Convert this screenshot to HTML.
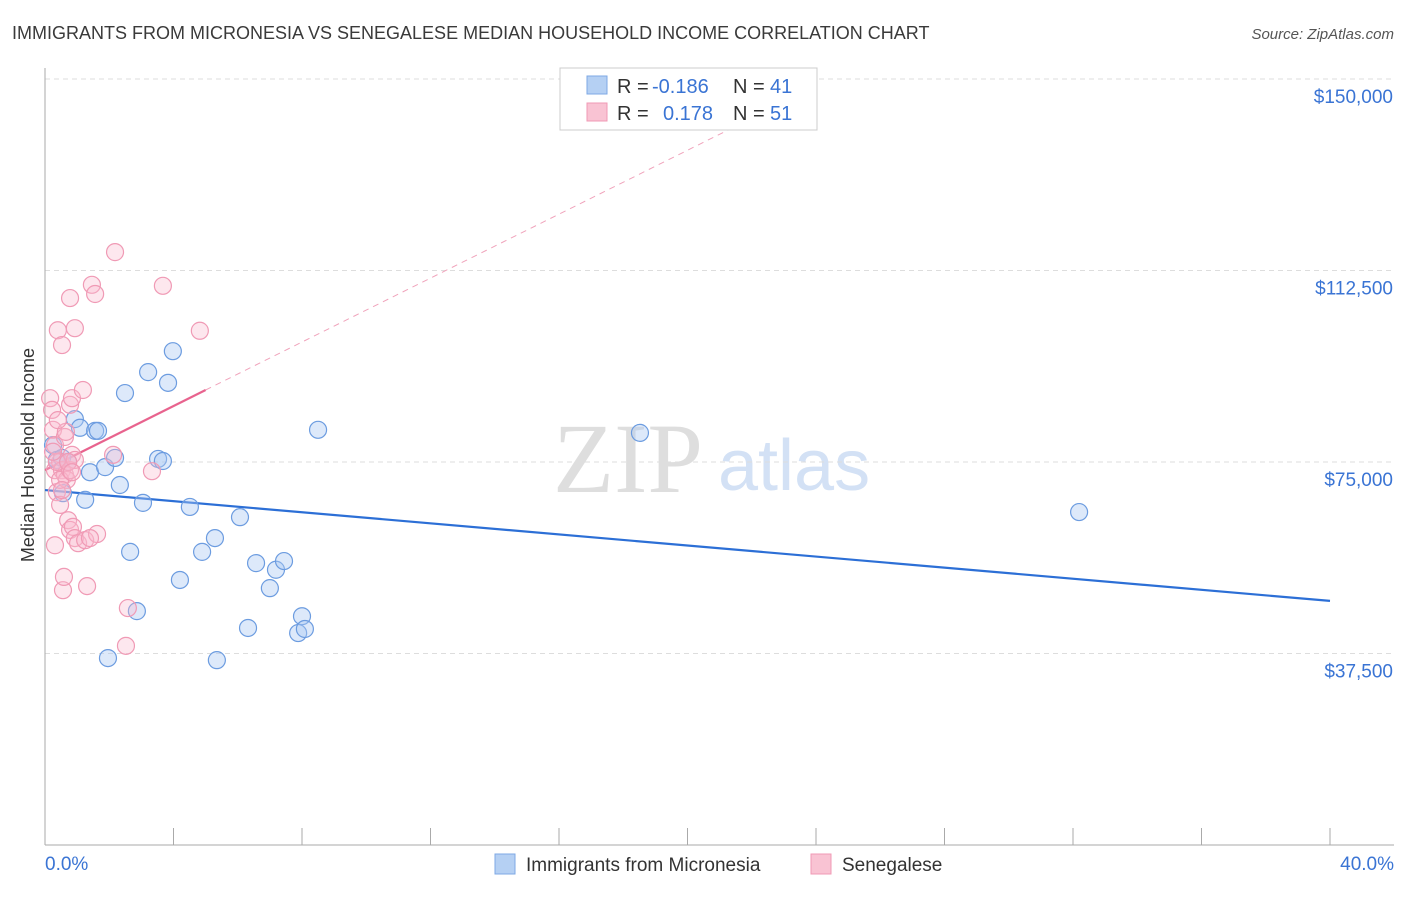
<!DOCTYPE html>
<html><head><meta charset="utf-8">
<style>
body{margin:0;background:#fff;font-family:"Liberation Sans",sans-serif;}
svg text{font-family:"Liberation Sans",sans-serif;}
</style></head>
<body>
<svg id="chart" width="1406" height="892" xmlns="http://www.w3.org/2000/svg">
<text x="12" y="39" font-size="18" fill="#3a3a3a">IMMIGRANTS FROM MICRONESIA VS SENEGALESE MEDIAN HOUSEHOLD INCOME CORRELATION CHART</text>
<text x="1394" y="39" font-size="15" fill="#555" text-anchor="end" font-style="italic">Source: ZipAtlas.com</text>
<g>
<text x="553" y="492" font-size="100" fill="#dedede" style="font-family:'Liberation Serif',serif">ZIP</text>
<text x="718" y="490" font-size="72" fill="#d3e1f5">atlas</text>
</g>
<g id="grid"></g>
<g id="axes"></g>
<g id="trends"></g>
<g id="points"></g>
<text transform="translate(34,455) rotate(-90)" font-size="18" fill="#333" text-anchor="middle">Median Household Income</text>
<g>
<rect x="560" y="68" width="257" height="62" fill="#fff" stroke="#ccc"/>
<rect x="587" y="76" width="20" height="18" fill="#b5d0f3" stroke="#7ea8e4"/>
<rect x="587" y="103" width="20" height="18" fill="#f9c3d3" stroke="#f09ab5"/>
<text x="617" y="93" font-size="20" fill="#333">R = </text><text x="652" y="93" font-size="20" fill="#3a74d4">-0.186</text>
<text x="733" y="93" font-size="20" fill="#333">N = </text><text x="770" y="93" font-size="20" fill="#3a74d4">41</text>
<text x="617" y="120" font-size="20" fill="#333">R = </text><text x="663" y="120" font-size="20" fill="#3a74d4">0.178</text>
<text x="733" y="120" font-size="20" fill="#333">N = </text><text x="770" y="120" font-size="20" fill="#3a74d4">51</text>
</g>
<g>
<rect x="495" y="854" width="20" height="20" fill="#b5d0f3" stroke="#7ea8e4"/>
<text x="526" y="871" font-size="19" fill="#333">Immigrants from Micronesia</text>
<rect x="811" y="854" width="20" height="20" fill="#f9c3d3" stroke="#f09ab5"/>
<text x="842" y="871" font-size="19" fill="#333">Senegalese</text>
</g>
</svg>
<script>
const yTicks=[37500,75000,112500,150000];
const yTickLabels=["$37,500","$75,000","$112,500","$150,000"];
const xTicks=[0,4,8,12,16,20,24,28,32,36,40];
const blueX=[0.25,0.37,0.53,0.72,0.56,0.93,1.09,1.25,1.40,1.56,1.65,1.87,1.96,2.18,2.33,2.49,2.65,2.86,3.05,3.21,3.52,3.67,3.83,3.98,4.20,4.51,4.89,5.29,5.35,6.07,6.32,6.57,7.00,7.19,7.44,7.88,8.00,8.09,8.50,18.52,32.19];
const blueY=[78300,75400,75800,75000,68900,83400,81700,67600,73000,81100,81100,74000,36600,75800,70500,88500,57400,45800,67000,92600,75600,75200,90500,96700,51900,66200,57400,60100,36200,64200,42500,55200,50300,53900,55600,41500,44800,42300,81300,80700,65200];
const pinkX=[0.16,0.22,0.25,0.31,0.31,0.37,0.31,0.40,0.47,0.53,0.53,0.56,0.59,0.62,0.68,0.72,0.78,0.78,0.78,0.84,0.84,0.87,0.93,0.93,1.03,1.18,1.25,1.31,1.46,1.56,1.62,1.40,2.18,2.12,2.58,2.52,3.33,3.67,4.82,0.37,0.47,0.62,0.47,0.65,0.78,0.53,0.93,0.25,0.72,0.40,0.84];
const pinkY=[87500,85200,81300,78300,73400,69100,58700,100800,75000,97900,73400,49900,52500,72500,71500,63600,107100,61700,86200,87500,76400,62300,101200,60100,59100,89100,59700,50700,109700,107900,60900,60100,116100,76400,46400,39000,73200,109500,100700,75000,71500,79900,66600,80900,73400,69500,75400,77000,75000,83200,73000];
const blueTrendX=[0,40], blueTrendY=[69500,47800];
const pinkTrendX=[0,5], pinkTrendY=[73400,89100];
const pinkDashX=[5,23.5], pinkDashY=[89100,147000];

const NS="http://www.w3.org/2000/svg";
const X0=45,X1=1330,Y0=845,Ymax=150000,Ytop=79;
function sx(v){return X0+(v/40)*(X1-X0);}
function sy(v){return Y0-(v/Ymax)*(Y0-Ytop);}
function mk(tag,attrs,parent){const e=document.createElementNS(NS,tag);for(const k in attrs)e.setAttribute(k,attrs[k]);document.getElementById(parent).appendChild(e);return e;}

yTicks.forEach((t,i)=>{
  const l=mk('line',{x1:X0,x2:1394,y1:sy(t),y2:sy(t),stroke:'#ddd','stroke-dasharray':'5,4'},'grid');
  
  
  const tx=mk('text',{x:1393,y:sy(t)+24,'font-size':19,fill:'#3a74d4','text-anchor':'end'},'axes');
  tx.textContent=yTickLabels[i];
  
  
});
const ya=mk('line',{x1:X0,x2:X0,y1:68,y2:Y0,stroke:'#aaa'},'axes');


const xa=mk('line',{x1:X0,x2:1394,y1:Y0,y2:Y0,stroke:'#aaa'},'axes');


xTicks.forEach(t=>{
  const l=mk('line',{x1:sx(t),x2:sx(t),y1:828,y2:Y0,stroke:'#aaa'},'axes');
  
  
});
const xl0=mk('text',{x:45,y:870,'font-size':19,fill:'#3a74d4'},'axes');xl0.textContent='0.0%';


const xl1=mk('text',{x:1394,y:870,'font-size':19,fill:'#3a74d4','text-anchor':'end'},'axes');xl1.textContent='40.0%';



blueX.forEach((x,i)=>{
  const c=mk('circle',{cx:sx(x),cy:sy(blueY[i]),r:8.5,fill:'rgba(170,200,242,0.4)',stroke:'#6c9ce0','stroke-width':1.2},'points');
  
  
});
pinkX.forEach((x,i)=>{
  const c=mk('circle',{cx:sx(x),cy:sy(pinkY[i]),r:8.5,fill:'rgba(248,185,205,0.35)',stroke:'#f09ab5','stroke-width':1.2},'points');
  
  
});
const bt=mk('line',{x1:sx(blueTrendX[0]),y1:sy(blueTrendY[0]),x2:sx(blueTrendX[1]),y2:sy(blueTrendY[1]),stroke:'#2c6fd6','stroke-width':2.2},'trends');


const pt=mk('line',{x1:sx(pinkTrendX[0]),y1:sy(pinkTrendY[0]),x2:sx(pinkTrendX[1]),y2:sy(pinkTrendY[1]),stroke:'#e8638e','stroke-width':2.2},'trends');


const pd=mk('line',{x1:sx(pinkDashX[0]),y1:sy(pinkDashY[0]),x2:sx(pinkDashX[1]),y2:sy(pinkDashY[1]),stroke:'#f0a3bb','stroke-width':1,'stroke-dasharray':'6,5'},'trends');


</script>
</body></html>
